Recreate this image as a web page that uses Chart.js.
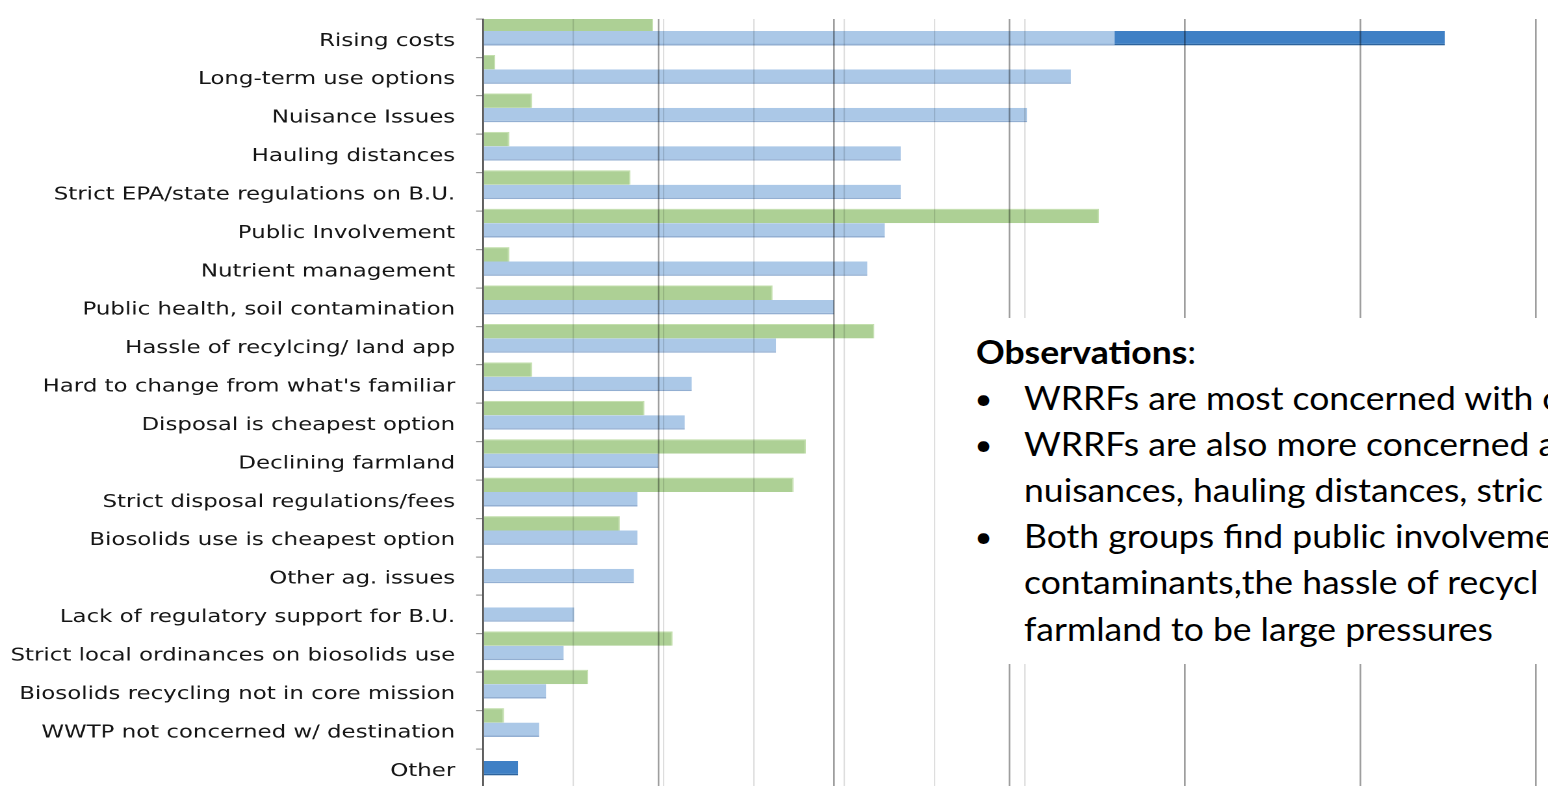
<!DOCTYPE html>
<html>
<head>
<meta charset="utf-8">
<script src="https://cdn.jsdelivr.net/npm/chart.js@4/dist/chart.umd.min.js"></script>
<style>
  html, body { margin: 0; padding: 0; background: #fff; overflow: hidden; }
  #wrap { position: relative; width: 1548px; height: 786px; overflow: hidden; }
  #chart { position: absolute; left: 0; top: 0; }
  #notes {
    position: absolute; left: 950px; top: 318px; width: 598px; height: 346px;
    background: #fff; overflow: hidden; white-space: nowrap;
    font-family: Lato, "Open Sans", sans-serif; font-size: 32px; line-height: 46.2px; color: #000;
    padding-top: 10.5px; box-sizing: border-box;
  }
  #notes .inner { transform: scaleX(1.11); transform-origin: 0 0; }
  #notes .line { position: relative; height: 46.2px; padding-left: 66.7px; }
  #notes .head { padding-left: 23.4px; }
  #notes .bullet { position: absolute; left: 22px; top: 0; font-size: 28px; }
</style>
</head>
<body>
<div id="wrap">
  <!-- la imagen original esta estirada a lo ancho, asi que el canvas tambien -->
  <canvas id="chart" width="1191" height="790" style="width:1548px;height:790px"></canvas>
  <div id="notes">
    <div class="inner">
      <div class="line head"><b>Observations</b>:</div>
      <div class="line"><span class="bullet">•</span>WRRFs are most concerned with c</div>
      <div class="line"><span class="bullet">•</span>WRRFs are also more concerned a</div>
      <div class="line">nuisances, hauling distances, stric</div>
      <div class="line"><span class="bullet">•</span>Both groups find public involveme</div>
      <div class="line">contaminants,the hassle of recycl</div>
      <div class="line">farmland to be large pressures</div>
    </div>
  </div>
</div>
<script>
// categorias (de arriba hacia abajo)
const categories = [
  "Rising costs",
  "Long-term use options",
  "Nuisance Issues",
  "Hauling distances",
  "Strict EPA/state regulations on B.U.",
  "Public Involvement",
  "Nutrient management",
  "Public health, soil contamination",
  "Hassle of recylcing/ land app",
  "Hard to change from what's familiar",
  "Disposal is cheapest option",
  "Declining farmland",
  "Strict disposal regulations/fees",
  "Biosolids use is cheapest option",
  "Other ag. issues",
  "Lack of regulatory support for B.U.",
  "Strict local ordinances on biosolids use",
  "Biosolids recycling not in core mission",
  "WWTP not concerned w/ destination",
  "Other"
];
// barras verdes (otro grupo)
const groupBValues = [9.7, 0.7, 2.8, 1.5, 8.4, 35.1, 1.5, 16.5, 22.3, 2.8, 9.2, 18.4, 17.7, 7.8, null, null, 10.8, 6.0, 1.2, null];
// barras azul claro (WRRFs)
const wrrfValues = [36.0, 33.5, 31.0, 23.8, 23.8, 22.9, 21.9, 20.0, 16.7, 11.9, 11.5, 10.0, 8.8, 8.8, 8.6, 5.2, 4.6, 3.6, 3.2, null];
// barras azul oscuro (detras de las claras)
const highlightValues = [54.8, null, null, null, null, null, null, null, null, null, null, null, null, null, null, null, null, null, null, 2.0];
// lineas de la cuadricula
const xTicks = [0, 10, 20, 30, 40, 50, 60];
const spacer = categories.map(() => null); // hueco vacio debajo de cada par

const stretch = 1548 / 1191;

Chart.defaults.font.family = "'DejaVu Sans', Verdana, sans-serif";

new Chart(document.getElementById("chart"), {
  type: "bar",
  data: {
    labels: categories,
    datasets: [
      {
        label: "Group B",
        data: groupBValues,
        stack: "g",
        backgroundColor: "#add095",
        borderColor: "#c3dfad",
        borderWidth: { top: 1, bottom: 0, left: 0, right: 1 },
        borderSkipped: "start"
      },
      {
        label: "WRRFs",
        data: wrrfValues,
        stack: "b",
        backgroundColor: "#abc8e7",
        borderColor: "#93afd2",
        borderWidth: { top: 0, bottom: 1.5, left: 0, right: 0 },
        borderSkipped: "start"
      },
      {
        label: "Highlight",
        data: highlightValues,
        stack: "b",
        backgroundColor: "#3f80c5",
        borderColor: "#2d639c",
        borderWidth: { top: 0, bottom: 1.5, left: 0, right: 0 },
        borderSkipped: "start"
      },
      {
        label: "",
        data: spacer,
        stack: "z",
        backgroundColor: "rgba(0,0,0,0)"
      }
    ]
  },
  options: {
    indexAxis: "y",
    responsive: false,
    animation: false,
    devicePixelRatio: 2,
    categoryPercentage: 1.124,
    barPercentage: 1,
    layout: { padding: { top: 19, bottom: 2.6, left: 0, right: 9.2 } },
    plugins: { legend: { display: false }, tooltip: { enabled: false } },
    scales: {
      x: {
        stacked: false,
        min: 0,
        max: 60,
        afterBuildTicks: (axis) => { axis.ticks = xTicks.map((v) => ({ value: v })); },
        ticks: { display: false },
        border: { display: false },
        grid: { z: 1, drawTicks: false, color: "rgba(0,0,0,0.38)", lineWidth: 1.3 }
      },
      x2: {
        type: "linear",
        position: "top",
        min: 0,
        max: 810.2 / (90.3 / stretch),
        ticks: { display: false, stepSize: 1 },
        border: { display: false },
        grid: {
          z: 1,
          drawTicks: false,
          lineWidth: 1.1,
          color: (ctx) => (ctx.tick && ctx.tick.value >= 1 && ctx.tick.value <= 6) ? "rgba(0,0,0,0.13)" : "rgba(0,0,0,0)"
        }
      },
      y: {
        afterFit: (axis) => {
          axis.width = 483 / stretch;
          axis.paddingTop = 0;
          axis.paddingBottom = 0;
        },
        ticks: { color: "#151515", font: { size: 17.6 }, padding: 16, labelOffset: 3 },
        border: { color: "#8a8a8a", width: 1.4 },
        grid: { drawOnChartArea: false, tickLength: 5.4, color: "#9a9a9a", lineWidth: 1.2 }
      }
    }
  }
});
</script>
</body>
</html>
